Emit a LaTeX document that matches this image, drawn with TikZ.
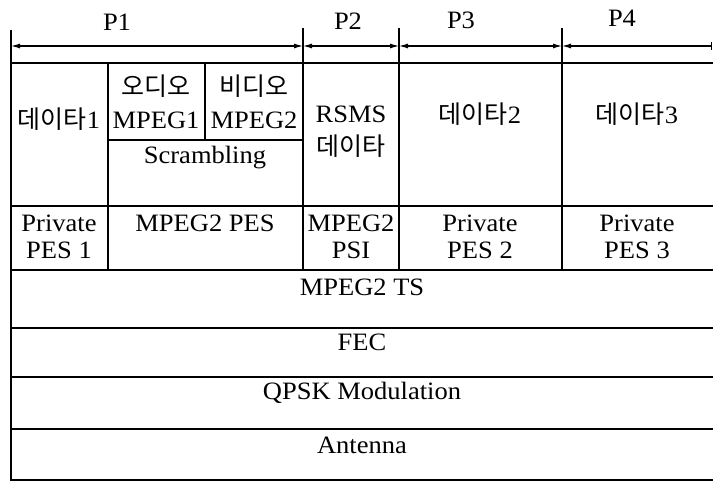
\documentclass[tikz,border=0pt]{standalone}
\usepackage{fontspec}
\setmainfont[FakeStretch=1.06]{Liberation Serif}
\newfontfamily\kr[Scale=1.0]{Noto Sans CJK KR}
\usetikzlibrary{arrows.meta}
\begin{document}
\begin{tikzpicture}[x=1pt,y=-1pt, line width=1.3pt,
  lbl/.style={font=\fontsize{25}{27}\selectfont, inner sep=0pt, align=center},
  dimline/.style={{Latex[length=9pt,width=5pt]}-{Latex[length=9pt,width=5pt]}, line width=1.1pt},
  dimend/.style={{Latex[length=9pt,width=5pt]}-{Bar[width=8pt]}, line width=1.1pt},
  grid/.style={line width=1.3pt}
]
\useasboundingbox (0,0) rectangle (713,481);
% dimension coordinates
\coordinate (a0) at (11,46);
\coordinate (a1) at (303,46);
\coordinate (a2) at (399,46);
\coordinate (a3) at (562,46);
\coordinate (a4) at (712,46);
\draw[dimline] (a0) -- (a1);
\draw[dimline] (a1) -- (a2);
\draw[dimline] (a2) -- (a3);
\draw[dimend] (a3) -- (a4);
\node[lbl] (p1) at (117,22) {P1};
\node[lbl] (p2) at (348,21) {P2};
\node[lbl] (p3) at (461,20) {P3};
\node[lbl] (p4) at (622,18) {P4};
% grid
\draw[grid] (11,30) -- (11,481);
\draw[grid] (303,28) -- (303,270);
\draw[grid] (399,28) -- (399,270);
\draw[grid] (562,28) -- (562,270);
\draw[grid] (108,63) -- (108,270);
\draw[grid] (205,63) -- (205,140);
\draw[grid] (11,63) -- (713,63);
\draw[grid] (108,140) -- (303,140);
\draw[grid] (11,206) -- (713,206);
\draw[grid] (11,270) -- (713,270);
\draw[grid] (11,328) -- (713,328);
\draw[grid] (11,377) -- (713,377);
\draw[grid] (11,429) -- (713,429);
\draw[grid] (11,480) -- (713,480);
% row 1
\node[lbl] (d1) at (59,119) {{\kr 데이타}1};
\node[lbl] (au) at (156,86) {\kr 오디오};
\node[lbl] (m1) at (156,120) {MPEG1};
\node[lbl] (vi) at (254,86) {\kr 비디오};
\node[lbl] (m2) at (254,120) {MPEG2};
\node[lbl] (sc) at (205,158) {Scrambling};
\node[lbl] (rs) at (351,114) {RSMS};
\node[lbl] (rd) at (351,146) {\kr 데이타};
\node[lbl] (d2) at (480,114) {{\kr 데이타}2};
\node[lbl] (d3) at (637,114) {{\kr 데이타}3};
% row 2
\node[lbl] (pp1) at (59,237) {Private\\PES 1};
\node[lbl] (mp) at (205,223) {MPEG2 PES};
\node[lbl] (psi) at (351,237) {MPEG2\\PSI};
\node[lbl] (pp2) at (480,237) {Private\\PES 2};
\node[lbl] (pp3) at (637,237) {Private\\PES 3};
% bands
\node[lbl] (ts) at (362,287) {MPEG2 TS};
\node[lbl] (fec) at (362,342) {FEC};
\node[lbl] (qp) at (362,393) {QPSK Modulation};
\node[lbl] (an) at (362,445) {Antenna};
\end{tikzpicture}
\end{document}
